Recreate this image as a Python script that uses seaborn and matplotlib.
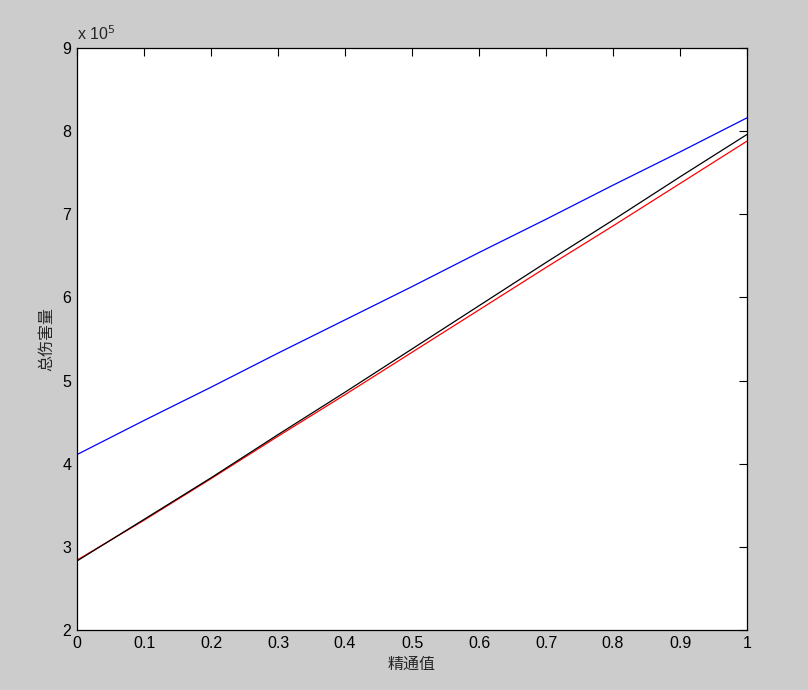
import matplotlib
matplotlib.use("Agg")
import matplotlib.pyplot as plt
import matplotlib.ticker as mticker
import pandas as pd
import seaborn as sns

# 精通值 (x) and 总伤害量 for the three curves
mastery = [0.0, 0.1, 0.2, 0.3, 0.4, 0.5, 0.6, 0.7, 0.8, 0.9, 1.0]
damage_blue = [411000, 452000, 492000, 533000, 573000, 613000, 654000, 694000, 735000, 775000, 816000]
damage_black = [283000, 333000, 383000, 435000, 486000, 538000, 590000, 642000, 693000, 745000, 796000]
damage_red = [284000, 332000, 382000, 433000, 483000, 534000, 585000, 636000, 686000, 737000, 788000]


def main() -> None:
    sns.set_style("white")
    plt.rcParams["font.family"] = ["Liberation Sans", "Noto Sans CJK SC", "DejaVu Sans"]

    df = pd.DataFrame({
        "x": mastery * 3,
        "y": damage_blue + damage_red + damage_black,
        "series": ["blue"] * len(mastery) + ["red"] * len(mastery) + ["black"] * len(mastery),
    })

    fig = plt.figure(figsize=(8.08, 6.90), dpi=100, facecolor="#cccccc")
    ax = fig.add_axes([77 / 808, 60 / 690, 670 / 808, 582 / 690])
    ax.set_facecolor("white")

    sns.lineplot(
        data=df, x="x", y="y", hue="series",
        palette={"blue": "#0000ff", "red": "#ff0000", "black": "#000000"},
        linewidth=0.9, legend=False, ax=ax, estimator=None, sort=False,
    )

    ax.set_xlim(0, 1)
    ax.set_ylim(200000, 900000)
    ax.xaxis.set_major_locator(mticker.MultipleLocator(0.1))
    ax.yaxis.set_major_locator(mticker.MultipleLocator(100000))
    ax.xaxis.set_major_formatter(mticker.FuncFormatter(lambda v, p: f"{v:g}"))
    ax.yaxis.set_major_formatter(mticker.FuncFormatter(lambda v, p: f"{v / 1e5:g}"))

    ax.tick_params(direction="in", length=6, width=0.8, top=True, right=True,
                   labelsize=11.5, colors="black", pad=4)
    for s in ax.spines.values():
        s.set_visible(True)
        s.set_color("black")
        s.set_linewidth(0.9)

    cjk = ["Noto Sans CJK SC", "DejaVu Sans"]
    ax.set_xlabel("精通值", fontsize=11.5, family=cjk, labelpad=4)
    ax.set_ylabel("总伤害量", fontsize=11.5, family=cjk, labelpad=5)
    ax.text(0.0, 1.008, r"x 10$^{5}$", transform=ax.transAxes, fontsize=11.5, ha="left", va="bottom")

    fig.savefig("out.png", dpi=100, facecolor=fig.get_facecolor())
    plt.close(fig)


if __name__ == "__main__":
    main()
